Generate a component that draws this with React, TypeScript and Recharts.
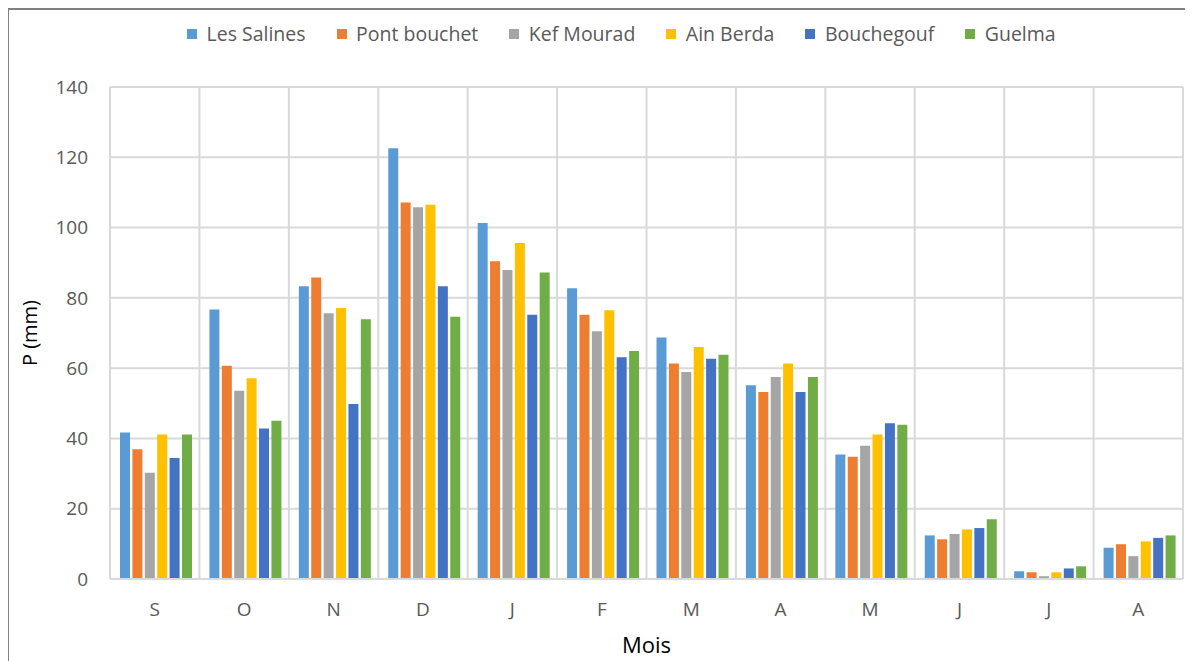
import React from 'react';
import { BarChart, Bar, XAxis, YAxis, CartesianGrid, Legend, Label } from 'recharts';

const months = ['S', 'O', 'N', 'D', 'J', 'F', 'M', 'A', 'M', 'J', 'J', 'A'];
const yTicks = [0, 20, 40, 60, 80, 100, 120, 140];

const lesSalines = [41.7, 76.7, 83.3, 122.6, 101.3, 82.7, 68.7, 55.1, 35.4, 12.4, 2.2, 8.9];
const pontBouchet = [36.9, 60.7, 85.8, 107.1, 90.4, 75.2, 61.3, 53.2, 34.8, 11.3, 1.9, 9.9];
const kefMourad = [30.2, 53.6, 75.6, 105.8, 87.9, 70.5, 58.9, 57.5, 37.9, 12.8, 0.8, 6.5];
const ainBerda = [41.1, 57.1, 77.1, 106.5, 95.6, 76.5, 66.0, 61.3, 41.1, 14.1, 1.9, 10.7];
const bouchegouf = [34.4, 42.8, 49.8, 83.3, 75.2, 63.1, 62.7, 53.2, 44.3, 14.5, 3.0, 11.7];
const guelma = [41.1, 45.0, 73.9, 74.6, 87.2, 64.9, 63.8, 57.5, 43.9, 17.0, 3.6, 12.4];

const seriesNames = ['Les Salines', 'Pont bouchet', 'Kef Mourad', 'Ain Berda', 'Bouchegouf', 'Guelma'];
const seriesColors = ['#5B9BD5', '#ED7D31', '#A5A5A5', '#FFC000', '#4472C4', '#70AD47'];
const seriesValues = [lesSalines, pontBouchet, kefMourad, ainBerda, bouchegouf, guelma];

const data = months.map((m, i) => {
  const row: any = { month: m };
  seriesNames.forEach((n, s) => {
    row[n] = seriesValues[s][i];
  });
  return row;
});

const FONT = '"Open Sans", sans-serif';
const GRID = '#D9D9D9';
const TEXT = '#595959';

const LegendContent = (props: any) => {
  const payload = [...(props.payload || [])].sort(
    (a: any, b: any) => seriesNames.indexOf(a.value) - seriesNames.indexOf(b.value)
  );
  return (
    <div style={{ display: 'flex', alignItems: 'center', fontFamily: FONT, fontSize: 19.5, color: TEXT, lineHeight: '24px' }}>
      {payload.map((p: any) => (
        <div key={p.value} style={{ display: 'flex', alignItems: 'center', marginRight: 31 }}>
          <span style={{ display: 'inline-block', width: 10, height: 10, background: p.color, marginRight: 9.5 }} />
          <span>{p.value}</span>
        </div>
      ))}
    </div>
  );
};

const YLabel = (props: any) => {
  const vb = props.viewBox;
  const cx = vb.x + 20;
  const cy = vb.y + vb.height / 2;
  return (
    <text x={cx} y={cy} transform={`rotate(-90, ${cx}, ${cy})`} textAnchor="middle" dominantBaseline="central"
      fontFamily={FONT} fontSize={20} fill="#000">
      P (mm)
    </text>
  );
};

const XLabel = (props: any) => {
  const vb = props.viewBox;
  return (
    <text x={vb.x + vb.width / 2} y={vb.y + 65} textAnchor="middle" dominantBaseline="central"
      fontFamily={FONT} fontSize={22} fill="#000">
      Mois
    </text>
  );
};

export default function App() {
  return (
    <div style={{ width: 1190, height: 700, borderTop: '2px solid #808080', borderLeft: '2px solid #808080', background: '#fff', position: 'relative', marginLeft: -1 }}>
      <BarChart
        width={1183}
        height={652}
        data={data}
        margin={{ top: 77, right: 9, bottom: 0, left: 0 }}
        barGap={2.4}
        barCategoryGap={10}
      >
        <CartesianGrid
          stroke={GRID}
          strokeWidth={2}
          verticalCoordinatesGenerator={({ offset }: any) =>
            months.map((_, i) => offset.left + (i * offset.width) / months.length).concat([offset.left + offset.width])
          }
        />
        <XAxis
          dataKey="month"
          height={83}
          axisLine={{ stroke: GRID, strokeWidth: 2 }}
          tickLine={false}
          tickMargin={18}
          tick={{ fill: TEXT, fontSize: 19, fontFamily: FONT }}
          interval={0}
        >
          <Label content={XLabel} />
        </XAxis>
        <YAxis
          width={101}
          domain={[0, 140]}
          ticks={yTicks}
          axisLine={false}
          tickLine={false}
          tickMargin={16}
          tick={{ fill: TEXT, fontSize: 19, fontFamily: FONT }}
        >
          <Label content={YLabel} />
        </YAxis>
        <Legend
          verticalAlign="middle"
          align="center"
          layout="horizontal"
          content={LegendContent}
          wrapperStyle={{ top: 12, left: 178, width: 1000, height: 24 }}
        />
        {seriesNames.map((n, s) => (
          <Bar key={n} dataKey={n} name={n} fill={seriesColors[s]} isAnimationActive={false} />
        ))}
      </BarChart>
    </div>
  );
}
